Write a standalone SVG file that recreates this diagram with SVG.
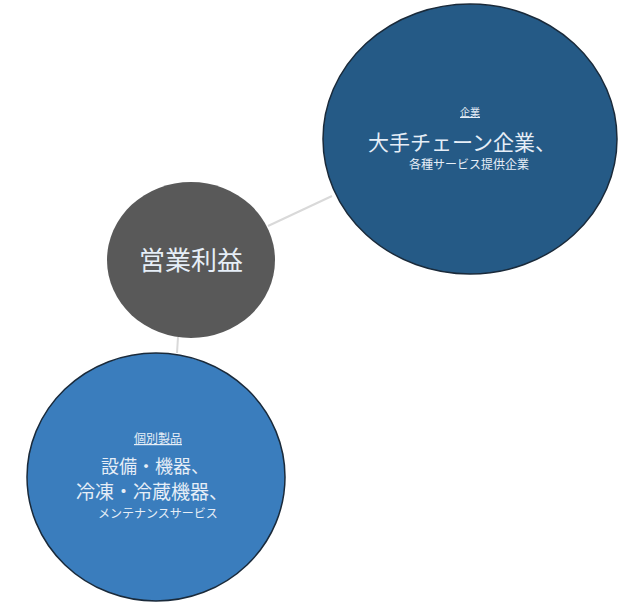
<svg xmlns="http://www.w3.org/2000/svg" width="641" height="606" viewBox="0 0 641 606">
<style>
text{font-family:"Noto Sans CJK JP","Noto Sans CJK SC",sans-serif;fill:#e6eef7;text-anchor:middle}
.conn{stroke:#d9d9d9;stroke-width:2;fill:none}
.u{text-decoration:underline}
</style>
<rect width="641" height="606" fill="#ffffff"/>
<g id="connectors">
<line class="conn" x1="268" y1="226" x2="332" y2="196"/>
<line class="conn" x1="178" y1="337" x2="177" y2="353"/>
</g>
<g id="node-kigyou">
<ellipse cx="470" cy="139" rx="147" ry="135" fill="#255a86" stroke="#1a2a3a" stroke-width="1.5"/>
<text x="470" y="116" font-size="10" class="u">企業</text>
<text x="462" y="150" font-size="21">大手チェーン企業、</text>
<text x="469" y="169" font-size="12">各種サービス提供企業</text>
</g>
<g id="node-eigyou">
<ellipse cx="191" cy="260" rx="84" ry="78" fill="#595959"/>
<text x="191" y="270" font-size="26" fill="#f2f2f2">営業利益</text>
</g>
<g id="node-kobetsu">
<ellipse cx="156" cy="477" rx="129" ry="124" fill="#3a7dbd" stroke="#1a2a3a" stroke-width="1.5"/>
<text x="158" y="443" font-size="12" class="u">個別製品</text>
<text x="155" y="473" font-size="18">設備・機器、</text>
<text x="152" y="499" font-size="19">冷凍・冷蔵機器、</text>
<text x="158" y="518" font-size="12">メンテナンスサービス</text>
</g>
</svg>
